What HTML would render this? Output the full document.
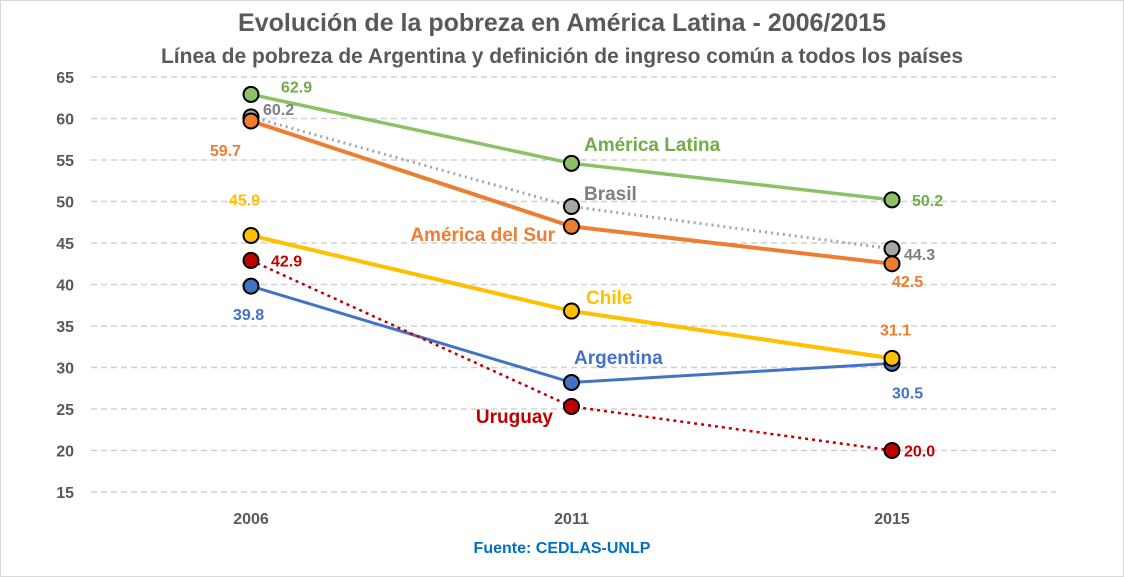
<!DOCTYPE html>
<html><head><meta charset="utf-8"><style>
body{margin:0;background:#fff;}
svg{display:block;font-family:"Liberation Sans",sans-serif;}
</style></head><body>
<svg id="c" width="1124" height="577">
<rect x="0.5" y="0.5" width="1123" height="576" fill="#fff" stroke="#d9d9d9"/>
<text x="562" y="31" text-anchor="middle" font-size="25" font-weight="bold" fill="#595959">Evolución de la pobreza en América Latina - 2006/2015</text>
<text x="562" y="63" text-anchor="middle" font-size="21" font-weight="bold" fill="#595959">Línea de pobreza de Argentina y definición de ingreso común a todos los países</text>
<text x="562" y="553" text-anchor="middle" font-size="16" font-weight="bold" fill="#0070c0">Fuente: CEDLAS-UNLP</text>
<g id="grid"></g><g id="series"></g>
</svg>
<script>
const years = ["2006","2011","2015"];
const yTicks = [15,20,25,30,35,40,45,50,55,60,65];
const names = ["América Latina","Brasil","América del Sur","Argentina","Chile","Uruguay"];
const amLatina = [62.9,54.6,50.2];
const brasil = [60.2,49.4,44.3];
const amSur = [59.7,47.0,42.5];
const chile = [45.9,36.8,31.1];
const argentina = [39.8,28.2,30.5];
const uruguay = [42.9,25.3,20.0];
const NS="http://www.w3.org/2000/svg";
const X=i=>251+i*320.5, Y=v=>77+(65-v)*8.3;
function mk(t,a,p){const e=document.createElementNS(NS,t);for(const k in a)e.setAttribute(k,a[k]);(p||document.getElementById('series')).appendChild(e);return e;}
const g=document.getElementById('grid');
yTicks.forEach(v=>{
 const l=mk('line',{x1:91,x2:1056,y1:Y(v),y2:Y(v),stroke:'#d0d0d0','stroke-width':1.5,'stroke-dasharray':'6,4'},g);
 
 
 const t=mk('text',{x:74,y:Y(v)+6,'text-anchor':'end','font-size':16,'font-weight':'bold',fill:'#595959'},g);t.textContent=v;
 
 
});
years.forEach((y,i)=>{const t=mk('text',{x:X(i),y:524,'text-anchor':'middle','font-size':16,'font-weight':'bold',fill:'#595959'},g);t.textContent=y;
 
 });
const S=[
 {d:amLatina,c:'#8cc168',tc:'#70ad47',w:3.5,dash:null,name:'america-latina',lab:[[30,-2,'start'],null,[20,6,'start']],nm:[584,151,'start','América Latina']},
 {d:brasil,c:'#a6a6a6',tc:'#7f7f7f',w:3,dash:'2,4',name:'brasil',lab:[[12,-2,'start'],null,[12,11,'start']],nm:[584,200,'start','Brasil']},
 {d:amSur,c:'#ed7d31',tc:'#ed7d31',w:4,dash:null,name:'america-del-sur',lab:[[-10,35,'end'],null,[0,23,'start']],nm:[555,241,'end','América del Sur']},
 {d:argentina,c:'#4472c4',tc:'#4472c4',w:3,dash:null,name:'argentina',lab:[[-18,34,'start'],null,[0,35,'start']],nm:[574,364,'start','Argentina']},
 {d:chile,c:'#ffc000',tc:'#ffc000',w:4,dash:null,name:'chile',lab:[[-22,-30,'start'],[0,0,'none'],[-12,-23,'start']],nm:[586,304,'start','Chile']},
 {d:uruguay,c:'#c00000',tc:'#c00000',w:2.5,dash:'3,4',name:'uruguay',lab:[[20,6,'start'],null,[12,6,'start']],nm:[553,423,'end','Uruguay']}
];
S.forEach(s=>{
 const pts=s.d.map((v,i)=>X(i)+','+Y(v)).join(' ');
 const a={points:pts,fill:'none',stroke:s.c,'stroke-width':s.w};if(s.dash)a['stroke-dasharray']=s.dash;
 const pl=mk('polyline',a);
 
 
});
S.forEach(s=>{
 s.d.forEach((v,i)=>{
  const c=mk('circle',{cx:X(i),cy:Y(v),r:7.5,fill:s.c,stroke:'#000','stroke-width':2});
  
  
  const L=s.lab[i];if(L&&L[2]!=='none'){
   const col=(s.name==='chile'&&i===2)?'#ed7d31':s.tc;
   const t=mk('text',{x:X(i)+L[0],y:Y(v)+L[1],'text-anchor':L[2],'font-size':16,'font-weight':'bold',fill:col});t.textContent=v.toFixed(1);
   
   }
 });
 const t=mk('text',{x:s.nm[0],y:s.nm[1],'text-anchor':s.nm[2],'font-size':19,'font-weight':'bold',fill:s.tc});t.textContent=s.nm[3];
 
 
});
</script>
</body></html>
